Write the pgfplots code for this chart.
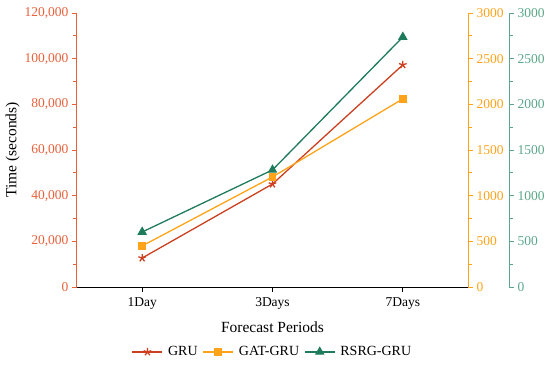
\documentclass[border=0pt]{standalone}
\usepackage{fontspec}
\setmainfont{Liberation Serif}
\usepackage{pgfplots}
\pgfplotsset{compat=1.18}
\definecolor{gruline}{HTML}{CC3F1F}
\definecolor{redaxis}{HTML}{E8603A}
\definecolor{orng}{HTML}{FFA31A}
\definecolor{grn}{HTML}{1E7B5C}
\definecolor{grnaxis}{HTML}{5BA58A}
\begin{document}
\begin{tikzpicture}
\pgfplotsset{
  every axis/.append style={
    scale only axis, height=274pt,
    xmin=-0.5, ymin=0,
    tick align=outside,
    major tick length=5pt, minor tick length=3.5pt,
    every tick/.append style={line width=0.9pt},
    minor y tick num=1,
    /pgf/number format/assume math mode=true,
    ticklabel style={font=\fontsize{13.5}{15}\selectfont},
    label style={font=\fontsize{15.5}{18}\selectfont},
    scaled y ticks=false,
    clip=false,
  },
}
\begin{axis}[name=main, width=391pt, xmax=2.5, ymax=120000,
  axis y line*=left, axis x line*=bottom,
  xtick={0,1,2}, xticklabels={1Day,3Days,7Days},
  xtick style={black},
  xticklabel style={yshift=-2pt},
  ytick={0,20000,...,120000},
  yticklabel style={/pgf/number format/fixed, /pgf/number format/1000 sep={,}, text=redaxis},
  y axis line style={redaxis, line width=1pt},
  x axis line style={black, line width=1pt, -},
  ytick style={redaxis},
  xlabel={Forecast Periods}, ylabel={Time (seconds)},
  xlabel style={yshift=-5pt},
  ylabel style={yshift=-2pt},
  legend style={at={(0.5,-0.237)}, anchor=center, draw=none, legend columns=3,
    font=\fontsize{14}{16}\selectfont, column sep=3pt, /tikz/every even column/.append style={column sep=3pt}},
  legend image code/.code={\draw[mark repeat=2,mark phase=2] plot coordinates {(0pt,0pt) (15pt,0pt) (30pt,0pt)};},
]
\addplot[gruline, line width=1.3pt, mark=star, mark size=4pt, mark options={line width=1.3pt}] coordinates {(0,12700) (1,45100) (2,97300)};
\addlegendentry{GRU}
\addlegendimage{orng, line width=1.3pt, mark=square*, mark size=3.2pt}
\addlegendentry{GAT-GRU}
\addlegendimage{grn, line width=1.3pt, mark=triangle*, mark size=4.3pt}
\addlegendentry{RSRG-GRU}
\end{axis}
\begin{axis}[width=391pt, xmax=2.5, ymax=3000,
  axis y line*=right, axis x line=none,
  ytick={0,500,...,3000},
  yticklabel style={/pgf/number format/fixed, /pgf/number format/1000 sep={}, text=orng},
  y axis line style={orng, line width=1pt, -},
  ytick style={orng},
]
\addplot[orng, line width=1.3pt, mark=square*, mark size=3.2pt] coordinates {(0,450) (1,1205) (2,2060)};
\end{axis}
\begin{axis}[width=432pt, xmax=2.8146, ymax=3000,
  axis y line*=right, axis x line=none,
  ytick={0,500,...,3000},
  yticklabel style={/pgf/number format/fixed, /pgf/number format/1000 sep={}, text=grnaxis},
  y axis line style={grnaxis, line width=1pt, -},
  ytick style={grnaxis},
]
\addplot[grn, line width=1.3pt, mark=triangle*, mark size=4.3pt] coordinates {(0,602) (1,1282) (2,2737)};
\end{axis}
\pgfresetboundingbox
\path ([shift={(-77pt,-78pt)}]main.south west) rectangle ([shift={(473pt,287pt)}]main.south west);
\end{tikzpicture}
\end{document}
